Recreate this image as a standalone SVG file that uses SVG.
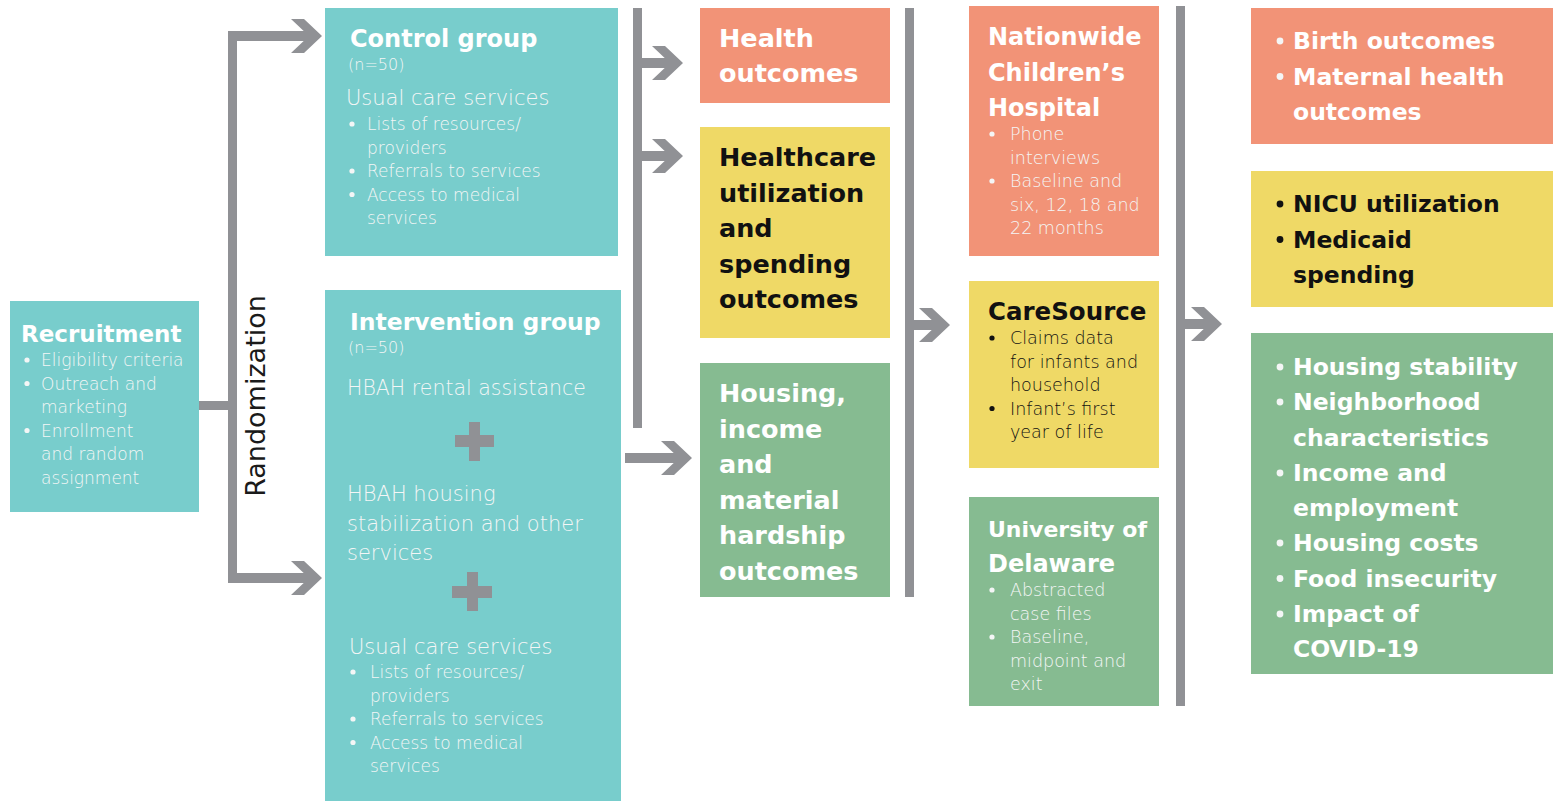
<svg xmlns="http://www.w3.org/2000/svg" xmlns:xlink="http://www.w3.org/1999/xlink" width="1556" height="801" viewBox="0 0 1556 801">
<style>
.teal{fill:#78CDCC}.sal{fill:#F29377}.yel{fill:#EFD966}.grn{fill:#86BB91}
.con{fill:#909195}
text{font-family:"DejaVu Sans","Liberation Sans",sans-serif}
.tb{font-weight:700;font-size:24px;fill:#FFFFFF}
.tbk{font-weight:700;font-size:24px;fill:#111111}
.ob{font-weight:700;font-size:25.5px;fill:#FFFFFF}
.obk{font-weight:700;font-size:25.5px;fill:#111111}
.fb{font-weight:700;font-size:23.5px;fill:#FFFFFF}
.fbk{font-weight:700;font-size:23.5px;fill:#111111}
.lt{font-weight:300;font-size:17px;fill:#F4F6F6}
.ltk{font-weight:300;font-size:17.5px;fill:#111111}
.lg{font-weight:300;font-size:21px;fill:#F4F6F6}
.sm{font-weight:300;font-size:16px;fill:#F4F6F6}
.dw{fill:#F4F6F6}.dk{fill:#111111}
</style>
<defs>
<path id="ah" d="M0,0 L-18,-17 L-31,-17 L-13,0 L-31,17 L-18,17 Z"/>
</defs>

<g id="connectors" class="con">
<rect x="199" y="401" width="33" height="9"/>
<rect x="228" y="31" width="9" height="552"/>
<rect x="228" y="31" width="84" height="10"/>
<use xlink:href="#ah" x="322" y="36"/>
<rect x="228" y="573" width="84" height="10"/>
<use xlink:href="#ah" x="322" y="578"/>
<rect x="633" y="8" width="9" height="420"/>
<rect x="633" y="58" width="40" height="10"/>
<use xlink:href="#ah" x="683" y="63"/>
<rect x="633" y="151" width="40" height="10"/>
<use xlink:href="#ah" x="683" y="156"/>
<rect x="625" y="453" width="57" height="10"/>
<use xlink:href="#ah" x="692" y="458"/>
<rect x="905" y="8" width="9" height="589"/>
<rect x="905" y="320" width="35" height="10"/>
<use xlink:href="#ah" x="950" y="325"/>
<rect x="1176" y="6" width="9" height="700"/>
<rect x="1176" y="319" width="36" height="10"/>
<use xlink:href="#ah" x="1222" y="324"/>
</g>

<g id="randomization">
<text transform="translate(265,396) rotate(-90)" text-anchor="middle" style="font-weight:400;font-size:27px;fill:#1a1a1a">Randomization</text>
</g>

<g id="recruitment">
<rect class="teal" x="10" y="301" width="189" height="211"/>
<text class="tb" x="21" y="342" style="font-size:23px">Recruitment</text>
<circle class="dw" cx="27" cy="360" r="2.6"/>
<circle class="dw" cx="27" cy="383.5" r="2.6"/>
<circle class="dw" cx="27" cy="430.5" r="2.6"/>
<text class="lt" x="41" y="366">Eligibility criteria</text>
<text class="lt" x="41" y="389.5">Outreach and</text>
<text class="lt" x="41" y="413">marketing</text>
<text class="lt" x="41" y="436.5">Enrollment</text>
<text class="lt" x="41" y="460">and random</text>
<text class="lt" x="41" y="483.5">assignment</text>
</g>

<g id="control">
<rect class="teal" x="325" y="8" width="293" height="248"/>
<text class="tb" x="350" y="47">Control group</text>
<text class="sm" x="348" y="70">(n=50)</text>
<text class="lg" x="346" y="105">Usual care services</text>
<circle class="dw" cx="352" cy="124" r="2.6"/>
<circle class="dw" cx="352" cy="171" r="2.6"/>
<circle class="dw" cx="352" cy="194.5" r="2.6"/>
<text class="lt" x="367" y="130">Lists of resources/</text>
<text class="lt" x="367" y="153.5">providers</text>
<text class="lt" x="367" y="177">Referrals to services</text>
<text class="lt" x="367" y="200.5">Access to medical</text>
<text class="lt" x="367" y="224">services</text>
</g>

<g id="intervention">
<rect class="teal" x="325" y="290" width="296" height="511"/>
<text class="tb" x="350" y="330" style="font-size:23.5px">Intervention group</text>
<text class="sm" x="348" y="353">(n=50)</text>
<text class="lg" x="347" y="395" style="font-size:20.5px">HBAH rental assistance</text>
<g class="con">
<rect x="455" y="435" width="39" height="12"/>
<rect x="469" y="422" width="11" height="39"/>
</g>
<text class="lg" x="347" y="501">HBAH housing</text>
<text class="lg" x="347" y="531">stabilization and other</text>
<text class="lg" x="347" y="560">services</text>
<g class="con">
<rect x="452" y="586" width="40" height="12"/>
<rect x="467" y="572" width="11" height="39"/>
</g>
<text class="lg" x="349" y="654">Usual care services</text>
<circle class="dw" cx="353" cy="672" r="2.6"/>
<circle class="dw" cx="353" cy="719" r="2.6"/>
<circle class="dw" cx="353" cy="742.5" r="2.6"/>
<text class="lt" x="370" y="678">Lists of resources/</text>
<text class="lt" x="370" y="701.5">providers</text>
<text class="lt" x="370" y="725">Referrals to services</text>
<text class="lt" x="370" y="748.5">Access to medical</text>
<text class="lt" x="370" y="772">services</text>
</g>

<g id="health-outcomes">
<rect class="sal" x="700" y="8" width="190" height="95"/>
<text class="ob" x="719" y="47">Health</text>
<text class="ob" x="719" y="82">outcomes</text>
</g>

<g id="healthcare-outcomes">
<rect class="yel" x="700" y="127" width="190" height="211"/>
<text class="obk" x="719" y="166">Healthcare</text>
<text class="obk" x="719" y="201.5">utilization</text>
<text class="obk" x="719" y="237">and</text>
<text class="obk" x="719" y="272.5">spending</text>
<text class="obk" x="719" y="308">outcomes</text>
</g>

<g id="housing-outcomes">
<rect class="grn" x="700" y="363" width="190" height="234"/>
<text class="ob" x="719" y="402">Housing,</text>
<text class="ob" x="719" y="437.5">income</text>
<text class="ob" x="719" y="473">and</text>
<text class="ob" x="719" y="508.5">material</text>
<text class="ob" x="719" y="544">hardship</text>
<text class="ob" x="719" y="579.5">outcomes</text>
</g>

<g id="nationwide">
<rect class="sal" x="969" y="6" width="190" height="250"/>
<text class="tb" x="988" y="45">Nationwide</text>
<text class="tb" x="988" y="81">Children’s</text>
<text class="tb" x="988" y="116">Hospital</text>
<circle class="dw" cx="992" cy="134" r="2.6"/>
<circle class="dw" cx="992" cy="181" r="2.6"/>
<text class="lt" x="1010" y="140" style="font-size:17.5px">Phone</text>
<text class="lt" x="1010" y="163.5" style="font-size:17.5px">interviews</text>
<text class="lt" x="1010" y="187" style="font-size:17.5px">Baseline and</text>
<text class="lt" x="1010" y="210.5" style="font-size:17.5px">six, 12, 18 and</text>
<text class="lt" x="1010" y="234" style="font-size:17.5px">22 months</text>
</g>

<g id="caresource">
<rect class="yel" x="969" y="281" width="190" height="187"/>
<text class="tbk" x="988" y="320" style="font-size:24.5px">CareSource</text>
<circle class="dk" cx="992" cy="338" r="2.6"/>
<circle class="dk" cx="992" cy="408.5" r="2.6"/>
<text class="ltk" x="1010" y="344">Claims data</text>
<text class="ltk" x="1010" y="367.5">for infants and</text>
<text class="ltk" x="1010" y="391">household</text>
<text class="ltk" x="1010" y="414.5">Infant’s first</text>
<text class="ltk" x="1010" y="438">year of life</text>
</g>

<g id="delaware">
<rect class="grn" x="969" y="497" width="190" height="209"/>
<text class="tb" x="988" y="537" style="font-size:22px">University of</text>
<text class="tb" x="988" y="572">Delaware</text>
<circle class="dw" cx="992" cy="590" r="2.6"/>
<circle class="dw" cx="992" cy="637" r="2.6"/>
<text class="lt" x="1010" y="596" style="font-size:17.5px">Abstracted</text>
<text class="lt" x="1010" y="619.5" style="font-size:17.5px">case files</text>
<text class="lt" x="1010" y="643" style="font-size:17.5px">Baseline,</text>
<text class="lt" x="1010" y="666.5" style="font-size:17.5px">midpoint and</text>
<text class="lt" x="1010" y="690" style="font-size:17.5px">exit</text>
</g>

<g id="birth-outcomes">
<rect class="sal" x="1251" y="8" width="302" height="136"/>
<circle class="dw" cx="1280" cy="41" r="3.4"/>
<circle class="dw" cx="1280" cy="76.5" r="3.4"/>
<text class="fb" x="1293" y="49">Birth outcomes</text>
<text class="fb" x="1293" y="84.5">Maternal health</text>
<text class="fb" x="1293" y="120">outcomes</text>
</g>

<g id="nicu-medicaid">
<rect class="yel" x="1251" y="171" width="302" height="136"/>
<circle class="dk" cx="1280" cy="204" r="3.4"/>
<circle class="dk" cx="1280" cy="239.5" r="3.4"/>
<text class="fbk" x="1293" y="212">NICU utilization</text>
<text class="fbk" x="1293" y="247.5">Medicaid</text>
<text class="fbk" x="1293" y="283">spending</text>
</g>

<g id="housing-measures">
<rect class="grn" x="1251" y="333" width="302" height="341"/>
<circle class="dw" cx="1280" cy="367" r="3.4"/>
<circle class="dw" cx="1280" cy="402" r="3.4"/>
<circle class="dw" cx="1280" cy="473" r="3.4"/>
<circle class="dw" cx="1280" cy="543" r="3.4"/>
<circle class="dw" cx="1280" cy="578.5" r="3.4"/>
<circle class="dw" cx="1280" cy="614" r="3.4"/>
<text class="fb" x="1293" y="375">Housing stability</text>
<text class="fb" x="1293" y="410">Neighborhood</text>
<text class="fb" x="1293" y="445.5">characteristics</text>
<text class="fb" x="1293" y="481">Income and</text>
<text class="fb" x="1293" y="516">employment</text>
<text class="fb" x="1293" y="551">Housing costs</text>
<text class="fb" x="1293" y="586.5">Food insecurity</text>
<text class="fb" x="1293" y="622">Impact of</text>
<text class="fb" x="1293" y="657">COVID-19</text>
</g>
</svg>
